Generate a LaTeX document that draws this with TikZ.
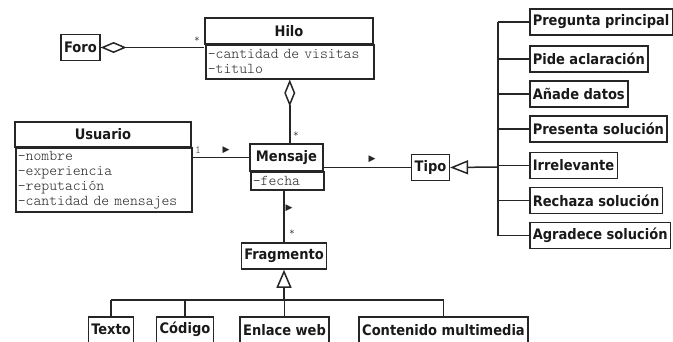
\documentclass[tikz,border=0pt]{standalone}
\usepackage{fontspec}
\usetikzlibrary{arrows.meta,positioning}
\setmainfont{DejaVu Sans}
\newfontfamily\clsfont{DejaVu Sans Condensed}
\newfontfamily\attrfont{Latin Modern Mono Light}
\newfontfamily\markfont{DejaVu Sans}

\tikzset{
  box/.style={draw=black!85, line width=1.5pt, text=black!90,
    font=\clsfont\fontsize{14.5}{16}\bfseries, inner xsep=3pt, minimum height=26pt},
  attrbox/.style={draw=black!85, line width=1.5pt, text=black!85, anchor=north west,
    font=\attrfont\fontsize{15}{15}\selectfont, align=left, inner xsep=2pt, inner ysep=2pt},
  link/.style={draw=black!85, line width=1.5pt},
  mult/.style={font=\attrfont\fontsize{11}{11}\selectfont, text=black!80, inner sep=0pt},
  dirmark/.style={font=\markfont\fontsize{9}{9}\selectfont, text=black!85, inner sep=0pt},
}

\begin{document}
\begin{tikzpicture}[x=1pt,y=-1pt]
    \useasboundingbox (0,0) rectangle (673,341);
    % Classes with attributes
    \node[box, minimum width=168pt] (hilo) at (289,31) {Hilo};
    \node[attrbox, text width=164pt, minimum height=34pt] (hilo-a) at (205,44)
        {-cantidad de visitas\\-titulo};
    \node[box, minimum width=176pt, minimum height=25pt] (usuario) at (103,134.5) {Usuario};
    \node[attrbox, text width=172pt, minimum height=64pt] (usuario-a) at (15,147)
        {-nombre\\-experiencia\\-reputación\\-cantidad de mensajes};
    \node[box, minimum width=73pt, minimum height=27pt] (mensaje) at (286.5,157.5) {Mensaje};
    \node[attrbox, text width=69pt, minimum height=18pt] (mensaje-a) at (250,171) {-fecha};
    % Plain classes
    \node[box] (foro) at (80.5,47.5) {Foro};
    \node[box] (tipo) at (430.5,167.5) {Tipo};
    \node[box] (fragmento) at (284,256) {Fragmento};
    % Kinds of Tipo
    \node[box, anchor=west] (pregunta) at (529,22) {Pregunta principal};
    \node[box, anchor=west] (aclaracion) at (529,59) {Pide aclaración};
    \node[box, anchor=west] (datos) at (529,94) {Añade datos};
    \node[box, anchor=west] (presenta) at (529,129) {Presenta solución};
    \node[box, anchor=west] (irrelevante) at (529,165.5) {Irrelevante};
    \node[box, anchor=west] (rechaza) at (529,200.5) {Rechaza solución};
    \node[box, anchor=west] (agradece) at (529,235.5) {Agradece solución};
    % Kinds of Fragmento
    \node[box, anchor=north] (texto) at (111,316) {Texto};
    \node[box, anchor=north] (codigo) at (185,316) {Código};
    \node[box, anchor=north] (enlace) at (284.5,316) {Enlace web};
    \node[box, anchor=north] (contenido) at (443.5,316) {Contenido multimedia};
    % Aggregations
    \draw[link, {Diamond[open,length=26pt,width=11pt]}-] (foro.east) -- (foro.east -| hilo.west);
    \draw[link, {Diamond[open,length=27pt,width=11pt]}-] (hilo-a.south) -- (hilo-a.south |- mensaje.north);
    % Associations
    \draw[link] (mensaje.west -| usuario-a.east) -- (mensaje.west);
    \draw[link] (tipo.west -| mensaje.east) -- (tipo.west);
    \draw[link] (fragmento.north |- mensaje-a.south) -- (fragmento.north);
    % Generalization of Tipo
    \coordinate (tbus) at (498,167);
    \draw[link, -{Triangle[open,length=18pt,width=14pt]}] (tbus) -- (tipo.east);
    \draw[link] (pregunta.west -| tbus) -- (agradece.west -| tbus);
    \foreach \k in {pregunta,aclaracion,datos,presenta,irrelevante,rechaza,agradece}
        \draw[link] (\k.west -| tbus) -- (\k.west);
    % Generalization of Fragmento
    \coordinate (fbus) at (284,300);
    \draw[link, -{Triangle[open,length=18pt,width=15pt]}] (fbus) -- (fragmento.south);
    \draw[link] (texto.north |- fbus) -- (contenido.north |- fbus);
    \foreach \k in {texto,codigo,enlace,contenido}
        \draw[link] (\k.north |- fbus) -- (\k.north);
    % Multiplicities and reading direction
    \node[mult] at (197,40) {*};
    \node[mult] at (296,135) {*};
    \node[mult] at (198,150) {1};
    \node[mult] at (292,233) {*};
    \node[dirmark] at (226,150) {▶};
    \node[dirmark] at (372,159) {▶};
    \node[dirmark] at (289,208) {▶};
\end{tikzpicture}
\end{document}
